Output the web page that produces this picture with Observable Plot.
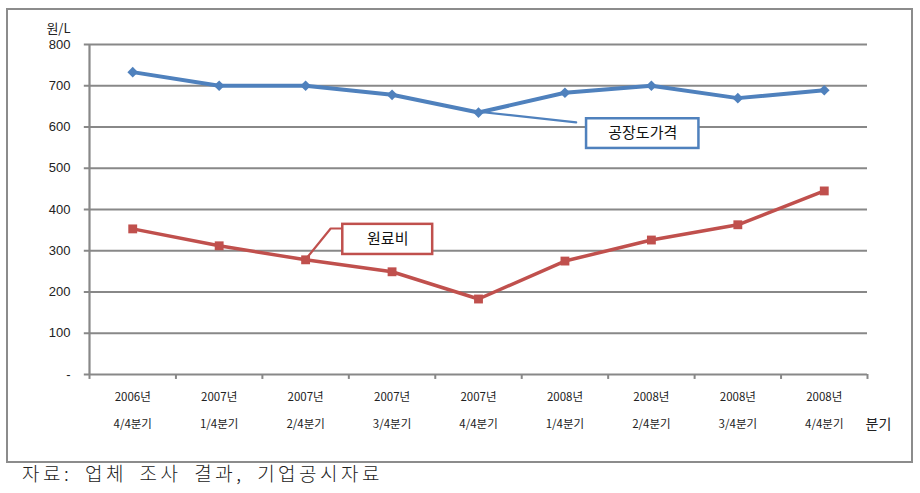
<!DOCTYPE html>
<html><head><meta charset="utf-8">
<script src="https://cdn.jsdelivr.net/npm/d3@7"></script>
<script src="https://cdn.jsdelivr.net/npm/@observablehq/plot@0.6"></script>
<style>
body{margin:0;background:#fff;font-family:"Noto Sans CJK KR","Noto Sans",sans-serif;}
#wrap{position:relative;width:920px;height:493px;}
#frame{position:absolute;left:6px;top:8px;width:903px;height:451px;border:2px solid #8c8c8c;pointer-events:none;}
#caption{position:absolute;left:22px;top:459px;font-size:19px;color:#222;font-family:"Noto Sans CJK KR",serif;font-weight:300;letter-spacing:3.5px;word-spacing:5px;}
</style></head>
<body><div id="wrap"><div id="chart"></div><div id="frame"></div><div id="caption">자료: 업체 조사 결과, 기업공시자료</div></div>
<script>
const years = ["2006년","2007년","2007년","2007년","2007년","2008년","2008년","2008년","2008년"];
const quarters = ["4/4분기","1/4분기","2/4분기","3/4분기","4/4분기","1/4분기","2/4분기","3/4분기","4/4분기"];
const factoryPrice = [733, 700, 700, 678, 635, 683, 700, 670, 689];
const rawMaterial = [353, 312, 278, 249, 183, 275, 326, 363, 445];
const yTicks = [0,100,200,300,400,500,600,700,800];
const yTickLabels = ["-","100","200","300","400","500","600","700","800"];
const blue = "#4F81BD", red = "#C0504D", grid = "#888888";

const idx = years.map((_, i) => i);
const blueData = idx.map(i => ({i, v: factoryPrice[i]}));
const redData = idx.map(i => ({i, v: rawMaterial[i]}));
const bounds = d3.range(0, years.length + 1).map(i => i - 0.5);

// annotation boxes (data units)
const boxes = [
  {label:"공장도가격", x1:5.25, x2:6.55, y1:548, y2:620, color:blue},
  {label:"원료비", x1:2.43, x2:3.47, y1:291, y2:364, color:red}
];
const leaders = [
  {color:blue, pts:[[4,637],[5.13,611]]},
  {color:red, pts:[[2,279],[2.29,354],[2.43,354]]}
];

const fontKR = "'Noto Sans CJK KR', 'Noto Sans', sans-serif";
const chart = Plot.plot({
  width: 920, height: 466,
  marginLeft: 89, marginRight: 53, marginTop: 44, marginBottom: 92,
  x: {type:"linear", domain:[-0.5, years.length - 0.5], axis:null},
  y: {type:"linear", domain:[0, 800], axis:null},
  style: {fontFamily: fontKR, background:"transparent"},
  marks: [
    Plot.ruleY(yTicks.filter(t => t > 0), {y:d=>d, x1:-0.56, x2:8.5, stroke:grid, strokeWidth:2.2}),
    Plot.ruleX([-0.5], {x:d=>d, y1:0, y2:800, stroke:grid, strokeWidth:2.2}),
    Plot.ruleY([0], {y:d=>d, x1:-0.56, x2:8.5, stroke:grid, strokeWidth:2.2}),
    Plot.ruleX(bounds, {x:d=>d, y1:0, y2:-12, stroke:grid, strokeWidth:2}),
    Plot.text(yTicks, {x:-0.5, y:d=>d, text:(d,i)=>yTickLabels[i], textAnchor:"end", dx:-19, fontSize:13, fill:"#222", fontFamily:"'Liberation Sans', Arial, sans-serif"}),
    Plot.text(["원/L"], {x:-0.5, y:800, text:d=>d, textAnchor:"end", dx:-19, dy:-16, fontSize:13, fill:"#222"}),
    Plot.text(idx, {x:d=>d, y:0, text:i=>years[i], dy:23, fontSize:11.5, fill:"#222"}),
    Plot.text(idx, {x:d=>d, y:0, text:i=>quarters[i], dy:50, fontSize:11.5, fill:"#222"}),
    Plot.text(["분기"], {x:8.5, y:0, text:d=>d, textAnchor:"start", dx:-2, dy:50, fontSize:14, fill:"#222"}),
    ...leaders.map(l => Plot.line(l.pts, {x:d=>d[0], y:d=>d[1], stroke:l.color, strokeWidth:2.2})),
    Plot.line(blueData, {x:"i", y:"v", stroke:blue, strokeWidth:4}),
    Plot.dot(blueData, {x:"i", y:"v", symbol:"diamond2", r:4.8, fill:blue}),
    Plot.line(redData, {x:"i", y:"v", stroke:red, strokeWidth:3.5}),
    Plot.dot(redData, {x:"i", y:"v", symbol:"square", r:5, fill:red}),
    Plot.rect(boxes, {x1:"x1", x2:"x2", y1:"y1", y2:"y2", fill:"white", stroke:d=>d.color, strokeWidth:2.5}),
    Plot.text(boxes, {x:d=>(d.x1+d.x2)/2, y:d=>(d.y1+d.y2)/2, text:"label", fontSize:15, fill:"#111"})
  ]
});
document.getElementById("chart").appendChild(chart);
</script></body></html>
